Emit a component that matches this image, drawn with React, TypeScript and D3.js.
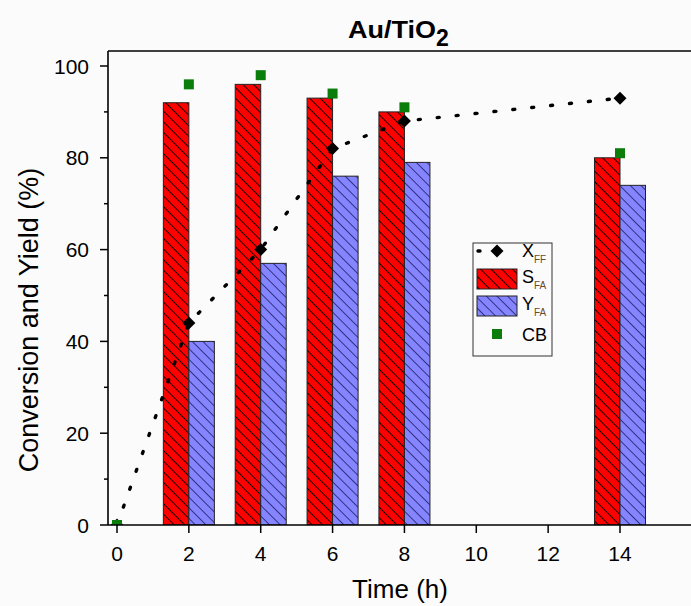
import React from "react";
import * as d3 from "d3";

const times = [0, 2, 4, 6, 8, 14];
const xffValues = [0, 44, 60, 82, 88, 93];
const cbValues = [0, 96, 98, 94, 91, 81];
const barTimes = [2, 4, 6, 8, 14];
const sfaValues = [92, 96, 93, 90, 80];
const yfaValues = [40, 57, 76, 79, 74];
const xTicks = [0, 2, 4, 6, 8, 10, 12, 14];
const yTicks = [0, 20, 40, 60, 80, 100];
const yMinorTicks = [10, 30, 50, 70, 90];

const W = 691;
const H = 606;
const left = 108;
const right = 691;
const top = 51;
const bottom = 525;
const barW = 0.71;
const FONT = "Arial, 'Liberation Sans', Helvetica, sans-serif";

export default function App() {
  const x = d3.scaleLinear().domain([0, 14]).range([117, 620]);
  const y = d3.scaleLinear().domain([0, 100]).range([525, 66]);
  const line = d3
    .line<number>()
    .x((_, i) => x(times[i]))
    .y((d) => y(d));
  const diamondPath = "M0,-6.5L6.5,0L0,6.5L-6.5,0Z";

  return (
    <div style={{ position: "fixed", left: 0, top: 0, width: W, height: H }}>
      <svg width={W} height={H} style={{ display: "block", background: "#fbfbfb" }} fontFamily={FONT}>
        <defs>
          <pattern id="hatchRed" width="7.5" height="7.5" patternUnits="userSpaceOnUse" patternTransform="rotate(45)">
            <rect width="7.5" height="7.5" fill="#ff0000" />
            <line x1="0" y1="0.5" x2="7.5" y2="0.5" stroke="#000" strokeWidth="0.9" />
          </pattern>
          <pattern id="hatchBlue" width="7.5" height="7.5" patternUnits="userSpaceOnUse" patternTransform="rotate(45)">
            <rect width="7.5" height="7.5" fill="#8585ff" />
            <line x1="0" y1="0.5" x2="7.5" y2="0.5" stroke="#1c1c60" strokeWidth="0.8" />
          </pattern>
          <clipPath id="plotClip">
            <rect x={left} y={top} width={right - left} height={bottom - top} />
          </clipPath>
        </defs>

        {/* title */}
        <text x={348} y={38} fontSize={23} fontWeight="bold" textLength={88} lengthAdjust="spacingAndGlyphs" fill="#000">
          Au/TiO
        </text>
        <text x={436} y={46} fontSize={23} fontWeight="bold" fill="#000">
          2
        </text>

        <g clipPath="url(#plotClip)">
          {barTimes.map((t, i) => (
            <rect
              key={"s" + t}
              x={x(t - barW)}
              y={y(sfaValues[i])}
              width={x(t) - x(t - barW)}
              height={y(0) - y(sfaValues[i])}
              fill="url(#hatchRed)"
              stroke="#222"
              strokeWidth={1}
            />
          ))}
          {barTimes.map((t, i) => (
            <rect
              key={"y" + t}
              x={x(t)}
              y={y(yfaValues[i])}
              width={x(t + barW) - x(t)}
              height={y(0) - y(yfaValues[i])}
              fill="url(#hatchBlue)"
              stroke="#222"
              strokeWidth={1}
            />
          ))}
          <path
            d={line(xffValues) || ""}
            fill="none"
            stroke="#000"
            strokeWidth={3.4}
            strokeLinecap="round"
            strokeDasharray="2 17"
          />
          {times.map((t, i) => (
            <path key={"d" + t} d={diamondPath} transform={`translate(${x(t)},${y(xffValues[i])})`} fill="#000" />
          ))}
          {times.map((t, i) => (
            <rect
              key={"c" + t}
              x={x(t) - 5}
              y={y(cbValues[i]) - 5}
              width={10}
              height={10}
              fill="#0a7d0a"
            />
          ))}
        </g>

        {/* frame */}
        <line x1={left} y1={top} x2={right} y2={top} stroke="#000" strokeWidth={1.6} />
        <line x1={left} y1={top} x2={left} y2={bottom} stroke="#000" strokeWidth={1.6} />
        <line x1={left} y1={bottom} x2={right} y2={bottom} stroke="#000" strokeWidth={1.6} />

        {/* y ticks */}
        {yTicks.map((v) => (
          <g key={"yt" + v}>
            <line x1={left - 8} x2={left} y1={y(v)} y2={y(v)} stroke="#000" strokeWidth={1.5} />
            <text x={89} y={y(v) + 7.5} fontSize={21} textAnchor="end" fill="#000">
              {v}
            </text>
          </g>
        ))}
        {yMinorTicks.map((v) => (
          <line key={"ym" + v} x1={left - 4} x2={left} y1={y(v)} y2={y(v)} stroke="#000" strokeWidth={1.5} />
        ))}

        {/* x ticks */}
        {xTicks.map((v) => (
          <g key={"xt" + v}>
            <line x1={x(v)} x2={x(v)} y1={bottom} y2={bottom + 8} stroke="#000" strokeWidth={1.5} />
            <text x={x(v)} y={561} fontSize={21} textAnchor="middle" fill="#000">
              {v}
            </text>
          </g>
        ))}

        {/* axis titles */}
        <text x={400} y={598} fontSize={26} textAnchor="middle" fill="#000">
          Time (h)
        </text>
        <text
          transform="translate(38,320) rotate(-90)"
          fontSize={27}
          textAnchor="middle"
          fill="#000"
        >
          Conversion and Yield (%)
        </text>

        {/* legend */}
        <rect x={473} y={243} width={79} height={113} fill="#fbfbfb" stroke="#333" strokeWidth={1} />
        <line x1={478} x2={516} y1={251} y2={251} stroke="#000" strokeWidth={3.4} strokeLinecap="round" strokeDasharray="2 17" />
        <path d={diamondPath} transform="translate(497,251)" fill="#000" />
        <text x={522} y={257} fontSize={18} fill="#000">X</text>
        <text x={534} y={263} fontSize={10} fill="#6b4a2a">FF</text>
        <rect x={477} y={269} width={40} height={20} fill="url(#hatchRed)" stroke="#222" strokeWidth={1} />
        <text x={522} y={283} fontSize={18} fill="#000">S</text>
        <text x={534} y={289} fontSize={10} fill="#6b4a2a">FA</text>
        <rect x={477} y={296} width={40} height={20} fill="url(#hatchBlue)" stroke="#222" strokeWidth={1} />
        <text x={522} y={310} fontSize={18} fill="#000">Y</text>
        <text x={534} y={316} fontSize={10} fill="#6b4a2a">FA</text>
        <rect x={492} y={329} width={10} height={10} fill="#0a7d0a" />
        <text x={522} y={341} fontSize={18} fill="#000">CB</text>
      </svg>
    </div>
  );
}
